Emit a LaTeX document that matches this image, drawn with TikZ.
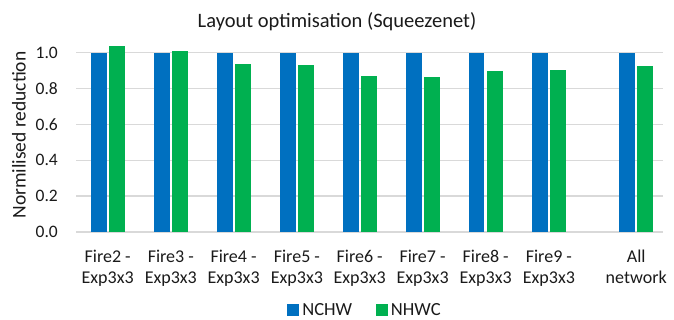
\documentclass[tikz,border=0pt]{standalone}
\usepackage{fontspec}
\setmainfont{Carlito}
\usetikzlibrary{positioning}
\definecolor{nchwblue}{HTML}{0070C0}
\definecolor{nhwcgreen}{HTML}{00B050}
\definecolor{gridgray}{HTML}{D9D9D9}
\definecolor{labgray}{HTML}{1A1A1A}
\begin{document}
\begin{tikzpicture}[x=1pt,y=1pt,gridline/.style={draw=gridgray, line width=1.3pt},nchw/.style={fill=nchwblue},nhwc/.style={fill=nhwcgreen},ticklab/.style={anchor=east, inner sep=0pt, text=labgray, font=\fontsize{17.5}{20}\selectfont},catlab/.style={anchor=north, inner sep=0pt, align=center, text=labgray, font=\fontsize{18}{20.5}\selectfont},legkey/.style={rectangle, minimum size=12pt, inner sep=0pt},legtext/.style={inner sep=0pt, text=labgray, font=\fontsize{18.5}{21}\selectfont},]
                    \useasboundingbox (0,0) rectangle (674,320);
                    \node[text=labgray, font=\fontsize{20.5}{24}\selectfont] (title) at (337,298) {Layout optimisation (Squeezenet)};
                    \node[rotate=90, text=labgray, font=\fontsize{19.5}{23}\selectfont] (ylabel) at (19,185) {Normilised reduction};
                    \begin{scope}[yshift=88pt, y=179.3pt]
                    % grid and ticks
                    \draw[gridline] (76,0) -- (663,0);
                    \draw[gridline] (76,0.2) -- (663,0.2);
                    \draw[gridline] (76,0.4) -- (663,0.4);
                    \draw[gridline] (76,0.6) -- (663,0.6);
                    \draw[gridline] (76,0.8) -- (663,0.8);
                    \draw[gridline] (76,1.0) -- (663,1.0);
                    \node[ticklab] (t0) at (58,0) {0.0};
                    \node[ticklab] (t2) at (58,0.2) {0.2};
                    \node[ticklab] (t4) at (58,0.4) {0.4};
                    \node[ticklab] (t6) at (58,0.6) {0.6};
                    \node[ticklab] (t8) at (58,0.8) {0.8};
                    \node[ticklab] (t10) at (58,1.0) {1.0};
                    % bars
                    \fill[nchw] (91,0) rectangle (107,1.000);
                    \fill[nhwc] (109,0) rectangle (124.5,1.039);
                    \fill[nchw] (154,0) rectangle (169.5,1.000);
                    \fill[nhwc] (171.5,0) rectangle (187.5,1.011);
                    \fill[nchw] (216.7,0) rectangle (232.7,1.000);
                    \fill[nhwc] (235,0) rectangle (250.5,0.937);
                    \fill[nchw] (280,0) rectangle (296,1.000);
                    \fill[nhwc] (298,0) rectangle (313.7,0.931);
                    \fill[nchw] (342.7,0) rectangle (359,1.000);
                    \fill[nhwc] (360.7,0) rectangle (376.7,0.868);
                    \fill[nchw] (405.7,0) rectangle (421.7,1.000);
                    \fill[nhwc] (424,0) rectangle (439.5,0.863);
                    \fill[nchw] (468.7,0) rectangle (484.3,1.000);
                    \fill[nhwc] (487,0) rectangle (502.7,0.900);
                    \fill[nchw] (532,0) rectangle (547.7,1.000);
                    \fill[nhwc] (550,0) rectangle (565.7,0.905);
                    \fill[nchw] (619.3,0) rectangle (635.3,1.000);
                    \fill[nhwc] (637,0) rectangle (653,0.927);
                    % categories
                    \node[catlab, yshift=-18pt] (c2) at (107.7,0) {Fire2 -\\Exp3x3};
                    \node[catlab, yshift=-18pt] (c3) at (170.8,0) {Fire3 -\\Exp3x3};
                    \node[catlab, yshift=-18pt] (c4) at (233.6,0) {Fire4 -\\Exp3x3};
                    \node[catlab, yshift=-18pt] (c5) at (296.9,0) {Fire5 -\\Exp3x3};
                    \node[catlab, yshift=-18pt] (c6) at (359.7,0) {Fire6 -\\Exp3x3};
                    \node[catlab, yshift=-18pt] (c7) at (422.6,0) {Fire7 -\\Exp3x3};
                    \node[catlab, yshift=-18pt] (c8) at (485.7,0) {Fire8 -\\Exp3x3};
                    \node[catlab, yshift=-18pt] (c9) at (548.9,0) {Fire9 -\\Exp3x3};
                    \node[catlab, yshift=-18pt] (call) at (636.2,0) {All\\network};
                    \end{scope}
                    % legend
                    \node[legkey, nchw] (k1) at (293,10) {};
                    \node[legtext, right=3pt of k1.east, anchor=west] (l1) {NCHW};
                    \node[legkey, nhwc, right=23pt of l1] (k2) {};
                    \node[legtext, right=3pt of k2.east, anchor=west] (l2) {NHWC};
\end{tikzpicture}
\end{document}
